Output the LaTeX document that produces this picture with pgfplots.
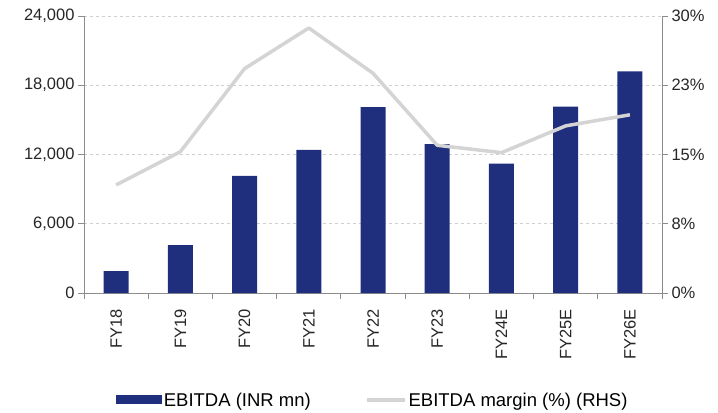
\documentclass[border=0pt]{standalone}
\usepackage{pgfplots}
\pgfplotsset{compat=1.18}
\usepackage{fontspec}
\setmainfont{Liberation Sans}
\usetikzlibrary{calc}
\definecolor{barnavy}{HTML}{1F2F7E}
\definecolor{linegray}{HTML}{D4D4D4}
\definecolor{axgray}{HTML}{8C8C8C}
\definecolor{gridgray}{HTML}{CFCFCF}

\pgfplotstableread{
x ebitda margin
0 1900 11.7
1 4150 15.3
2 10150 24.3
3 12400 28.7
4 16100 23.8
5 12900 16.0
6 11200 15.2
7 16150 18.1
8 19200 19.3
}\datatable

\begin{document}
\begin{tikzpicture}
  \pgfplotsset{
    common/.style={
      scale only axis,
      width=578bp, height=277bp,
      xmin=-0.5, xmax=8.5,
      tick label style={font=\fontsize{16.5bp}{19bp}\selectfont, text=black!85},
      /pgf/number format/assume math mode=true,
      axis line style={axgray, line width=0.9pt},
      major tick style={axgray, line width=0.9pt},
      minor tick style={axgray, line width=0.9pt},
      tick align=outside,
      major tick length=6bp,
    },
  }
  % EBITDA bars on the left axis
  \begin{axis}[
    common,
    name=main,
    axis x line*=bottom,
    axis y line*=left,
    ymin=0, ymax=24000,
    ytick={0,6000,12000,18000,24000},
    yticklabel style={/pgf/number format/.cd, fixed, 1000 sep={,}},
    scaled y ticks=false,
    xtick={0,...,8},
    xticklabels={FY18,FY19,FY20,FY21,FY22,FY23,FY24E,FY25E,FY26E},
    xticklabel style={rotate=90, anchor=east},
    xticklabel shift=7bp,
    major x tick style={draw=none},
    minor xtick={-0.5,0.5,...,8.5},
    minor tick length=6bp,
    ymajorgrids,
    grid style={gridgray, dashed, line width=0.7pt},
    legend style={at={(0.5,-0.345)}, anchor=north, draw=none, fill=none,
      legend columns=2, font=\fontsize{18.5bp}{21bp}\selectfont,
      /tikz/every even column/.append style={column sep=52bp}},
    legend image code/.code={\fill[barnavy] (0cm,-0.15cm) rectangle (1.6cm,0.17cm);},
  ]
    \addplot[ybar, bar width=25bp, fill=barnavy, draw=none] table[x=x, y=ebitda] {\datatable};
    \addlegendentry{EBITDA (INR mn)}
    \addlegendimage{legend image code/.code={\draw[linegray, line width=3.5bp] (0cm,0cm) -- (1.35cm,0cm);}}
    \addlegendentry{EBITDA margin (\%) (RHS)}
  \end{axis}
  % margin line on the right axis
  \begin{axis}[
    common,
    axis x line=none,
    axis y line*=right,
    ymin=0, ymax=30,
    ytick={0,7.5,15,22.5,30},
    yticklabels={0\%,8\%,15\%,23\%,30\%},
  ]
    \addplot[linegray, line width=3.5bp, line join=round] table[x=x, y=margin] {\datatable};
  \end{axis}
  \pgfresetboundingbox
  \useasboundingbox ($(main.south west)+(-84bp,-119bp)$) rectangle ($(main.north east)+(56bp,16bp)$);
\end{tikzpicture}
\end{document}
